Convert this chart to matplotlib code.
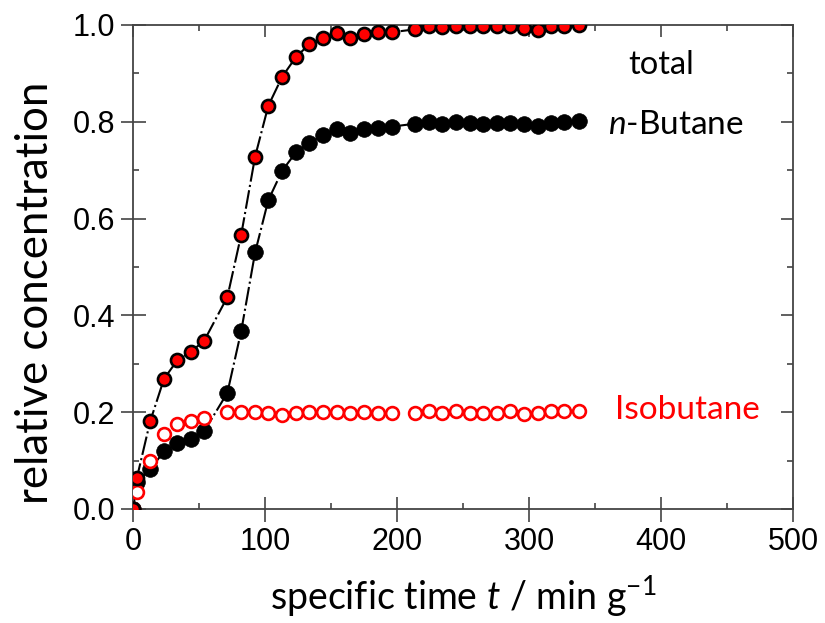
import matplotlib
matplotlib.use("Agg")
import matplotlib.pyplot as plt
from matplotlib.ticker import MultipleLocator
from matplotlib import font_manager

# specific time (min g^-1) of each sample
t = [0, 3, 13, 23.5, 33.5, 44, 54, 71.5, 82, 92.5, 102.5, 113, 123.5, 133.5, 144,
     154.5, 164.5, 175, 185.5, 196, 213.5, 224, 234, 244.5, 255, 265, 275.5,
     285.5, 296, 306.5, 316.5, 326.5, 337.5]

total = [0, 0.065, 0.181, 0.269, 0.307, 0.325, 0.348, 0.438, 0.567, 0.728, 0.833,
         0.893, 0.934, 0.960, 0.973, 0.983, 0.974, 0.982, 0.985, 0.985, 0.991,
         0.997, 0.995, 0.998, 0.997, 0.997, 0.997, 0.997, 0.993, 0.990, 0.998,
         0.998, 1.000]

n_butane = [0, 0.055, 0.082, 0.119, 0.136, 0.145, 0.161, 0.240, 0.368, 0.530, 0.638,
            0.699, 0.737, 0.757, 0.773, 0.785, 0.777, 0.785, 0.788, 0.790, 0.796,
            0.799, 0.796, 0.799, 0.797, 0.796, 0.797, 0.797, 0.796, 0.792, 0.797,
            0.799, 0.801]

isobutane = [0, 0.035, 0.100, 0.154, 0.175, 0.182, 0.189, 0.201, 0.201, 0.201, 0.198,
             0.195, 0.198, 0.201, 0.201, 0.201, 0.198, 0.200, 0.199, 0.199, 0.199,
             0.202, 0.199, 0.202, 0.199, 0.199, 0.199, 0.202, 0.196, 0.199, 0.202,
             0.202, 0.202]

x_ticks = [0, 100, 200, 300, 400, 500]
y_ticks = [0.0, 0.2, 0.4, 0.6, 0.8, 1.0]

names = {f.name for f in font_manager.fontManager.ttflist}
label_font = "Lato" if "Lato" in names else "DejaVu Sans"
tick_font = "Liberation Sans" if "Liberation Sans" in names else "DejaVu Sans"

plt.rcParams["mathtext.fontset"] = "custom"
plt.rcParams["mathtext.rm"] = label_font
plt.rcParams["mathtext.it"] = label_font + ":italic"

fig = plt.figure(figsize=(8.25, 6.23), dpi=100)
ax = fig.add_axes([133 / 825, 1 - 509 / 623, 660 / 825, 484 / 623])

dash = (0, (9, 1.6, 1, 1.6))
ax.plot(t, total, color="black", lw=1.5, ls=dash, zorder=2)
ax.plot(t, n_butane, color="black", lw=1.5, ls=dash, zorder=2)
ax.plot(t, n_butane, ls="none", marker="o", ms=11.3, mfc="black", mec="black",
        mew=0.5, zorder=3)
ax.plot(t, isobutane, ls="none", marker="o", ms=9.2, mfc="white", mec="#ff0000",
        mew=1.9, zorder=4)
ax.plot(t, total, ls="none", marker="o", ms=9.4, mfc="#ff0000", mec="black",
        mew=1.9, zorder=5)

ax.set_xlim(0, 500)
ax.set_ylim(0, 1.0)
ax.set_xticks(x_ticks)
ax.set_yticks(y_ticks)
ax.set_xticklabels([str(v) for v in x_ticks])
ax.set_yticklabels([f"{v:.1f}" for v in y_ticks])
ax.xaxis.set_minor_locator(MultipleLocator(50))
ax.yaxis.set_minor_locator(MultipleLocator(0.1))

frame = "#444444"
for s in ax.spines.values():
    s.set_color(frame)
    s.set_linewidth(1.3)

ax.tick_params(which="major", direction="inout", length=18, width=1.2, color=frame,
               labelsize=22, pad=4)
ax.tick_params(which="minor", direction="in", length=4.5, width=1.2, color=frame)
for lab in ax.get_xticklabels() + ax.get_yticklabels():
    lab.set_fontfamily(tick_font)

# inward ticks on the top and right edges
top = ax.secondary_xaxis("top")
top.set_xticks(x_ticks)
top.xaxis.set_minor_locator(MultipleLocator(50))
top.tick_params(which="major", direction="in", length=8.5, width=1.2, color=frame,
                labeltop=False)
top.tick_params(which="minor", direction="in", length=4.5, width=1.2, color=frame)
top.spines["top"].set_visible(False)
right = ax.secondary_yaxis("right")
right.set_yticks(y_ticks)
right.yaxis.set_minor_locator(MultipleLocator(0.1))
right.tick_params(which="major", direction="in", length=8.5, width=1.2, color=frame,
                  labelright=False)
right.tick_params(which="minor", direction="in", length=4.5, width=1.2, color=frame)
right.spines["right"].set_visible(False)

ax.set_xlabel(r"specific time $t$ / min g$^{-1}$", fontsize=27, family=label_font,
              labelpad=12)
ax.set_ylabel("relative concentration", fontsize=31.5, family=label_font)
ax.yaxis.set_label_coords(-0.117, 0.447)

ax.text(375, 0.917, "total", fontsize=23.5, family=label_font, va="center")
ax.text(360, 0.794, r"$n$-Butane", fontsize=24, family=label_font, va="center")
ax.text(365, 0.204, "Isobutane", fontsize=24, family=label_font, va="center",
        color="#ff0000")

fig.savefig("out.png", dpi=100)
